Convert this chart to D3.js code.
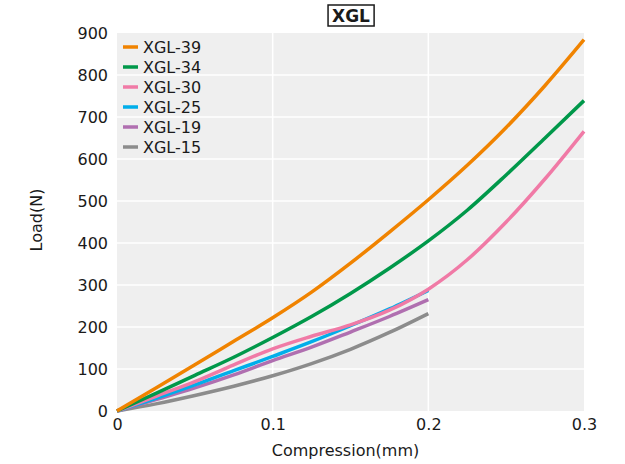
<!DOCTYPE html>
<html>
<head>
<meta charset="utf-8">
<script src="https://cdn.jsdelivr.net/npm/d3@7"></script>
<style>
  body { margin: 0; background: #fff; }
  text { font-family: "DejaVu Sans", sans-serif; fill: #1a1a1a; }
</style>
</head>
<body>
<div id="wrapper"></div>
<script>
// compression (mm) sample points
const compression = [0, 0.025, 0.05, 0.075, 0.1, 0.125, 0.15, 0.175, 0.2, 0.225, 0.25, 0.275, 0.3];

// load (N) for each sample
const xgl39 = [0, 55, 110, 166, 222, 283, 352, 426, 503, 585, 675, 775, 884];
const xgl34 = [0, 42, 85, 128, 175, 225, 280, 340, 405, 478, 562, 650, 739];
const xgl30 = [0, 35, 70, 110, 148, 178, 205, 240, 290, 360, 450, 553, 666];
const xgl25 = [0, 30, 62, 96, 130, 165, 203, 243, 287];
const xgl19 = [0, 27, 55, 86, 120, 152, 188, 225, 265];
const xgl15 = [0, 17, 37, 59, 84, 113, 147, 187, 232];

const seriesNames = ["XGL-39", "XGL-34", "XGL-30", "XGL-25", "XGL-19", "XGL-15"];
const seriesValues = [xgl39, xgl34, xgl30, xgl25, xgl19, xgl15];
const seriesColors = ["#f08300", "#00984a", "#f07aa6", "#00aeea", "#b06fb0", "#8c8c8c"];

const xTicks = [0, 0.1, 0.2, 0.3];
const yTicks = [0, 100, 200, 300, 400, 500, 600, 700, 800, 900];

function drawChart() {
    let dimensions = {
        width: 625,
        height: 464,
        margin: { top: 33, right: 41, bottom: 53, left: 117 },
    };
    dimensions.boundedWidth = dimensions.width - dimensions.margin.left - dimensions.margin.right;
    dimensions.boundedHeight = dimensions.height - dimensions.margin.top - dimensions.margin.bottom;

    const svg = d3.select("#wrapper")
        .append("svg")
        .attr("width", dimensions.width)
        .attr("height", dimensions.height);

    const bounds = svg.append("g")
        .attr("transform", `translate(${dimensions.margin.left},${dimensions.margin.top})`);

    const xScale = d3.scaleLinear()
        .domain([0, 0.3])
        .range([0, dimensions.boundedWidth]);
    const yScale = d3.scaleLinear()
        .domain([0, 900])
        .range([dimensions.boundedHeight, 0]);

    // plot background
    bounds.append("rect")
        .attr("width", dimensions.boundedWidth)
        .attr("height", dimensions.boundedHeight)
        .attr("fill", "#efefef");

    // grid
    bounds.append("g").selectAll("line")
        .data(yTicks.slice(1, -1))
        .join("line")
        .attr("x1", 0).attr("x2", dimensions.boundedWidth)
        .attr("y1", d => yScale(d)).attr("y2", d => yScale(d))
        .attr("stroke", "#fff").attr("stroke-width", 1.5);
    bounds.append("g").selectAll("line")
        .data(xTicks.slice(1, -1))
        .join("line")
        .attr("y1", 0).attr("y2", dimensions.boundedHeight)
        .attr("x1", d => xScale(d)).attr("x2", d => xScale(d))
        .attr("stroke", "#fff").attr("stroke-width", 1.5);

    // axes (no lines, just labels)
    const yAxis = bounds.append("g")
        .call(d3.axisLeft(yScale).tickValues(yTicks).tickSize(0).tickPadding(9));
    yAxis.select(".domain").remove();
    yAxis.selectAll("text").style("font-size", "16px").attr("fill", "#1a1a1a");

    const xAxis = bounds.append("g")
        .attr("transform", `translate(0,${dimensions.boundedHeight})`)
        .call(d3.axisBottom(xScale).tickValues(xTicks).tickSize(0).tickPadding(8)
            .tickFormat(d => d === 0 ? "0" : d3.format(".1f")(d)));
    xAxis.select(".domain").remove();
    xAxis.selectAll("text").style("font-size", "16px").attr("fill", "#1a1a1a");

    // lines
    const lineGenerator = d3.line()
        .x((d, i) => xScale(compression[i]))
        .y(d => yScale(d))
        .curve(d3.curveMonotoneX);

    // draw from bottom to top so orange is on top
    seriesValues.map((v, i) => i).reverse().forEach(i => {
        bounds.append("path")
            .attr("d", lineGenerator(seriesValues[i]))
            .attr("fill", "none")
            .attr("stroke", seriesColors[i])
            .attr("stroke-width", 3.5);
    });

    // legend
    const legend = bounds.append("g")
        .attr("transform", "translate(6,14)");
    seriesNames.forEach((name, i) => {
        const row = legend.append("g").attr("transform", `translate(0,${i * 20})`);
        row.append("line")
            .attr("x1", 0).attr("x2", 15)
            .attr("stroke", seriesColors[i]).attr("stroke-width", 3.5);
        row.append("text")
            .attr("x", 20).attr("dy", "0.36em")
            .style("font-size", "16px")
            .text(name);
    });

    // axis titles
    svg.append("text")
        .attr("x", dimensions.margin.left + dimensions.boundedWidth / 2 - 5)
        .attr("y", 456)
        .attr("text-anchor", "middle")
        .style("font-size", "16px")
        .text("Compression(mm)");

    svg.append("text")
        .attr("transform", `translate(42,${dimensions.margin.top + dimensions.boundedHeight / 2 - 2}) rotate(-90)`)
        .attr("text-anchor", "middle")
        .style("font-size", "16px")
        .text("Load(N)");

    // boxed title
    const titleBox = svg.append("rect");
    const title = svg.append("text")
        .attr("x", 351)
        .attr("y", 22)
        .attr("text-anchor", "middle")
        .style("font-size", "17px")
        .style("font-weight", "bold")
        .text("XGL");
    const bb = title.node().getBBox();
    titleBox
        .attr("x", bb.x - 4).attr("y", 5)
        .attr("width", bb.width + 8).attr("height", 21)
        .attr("fill", "#fff")
        .attr("stroke", "#1a1a1a").attr("stroke-width", 1.5);
}

drawChart();
</script>
</body>
</html>
